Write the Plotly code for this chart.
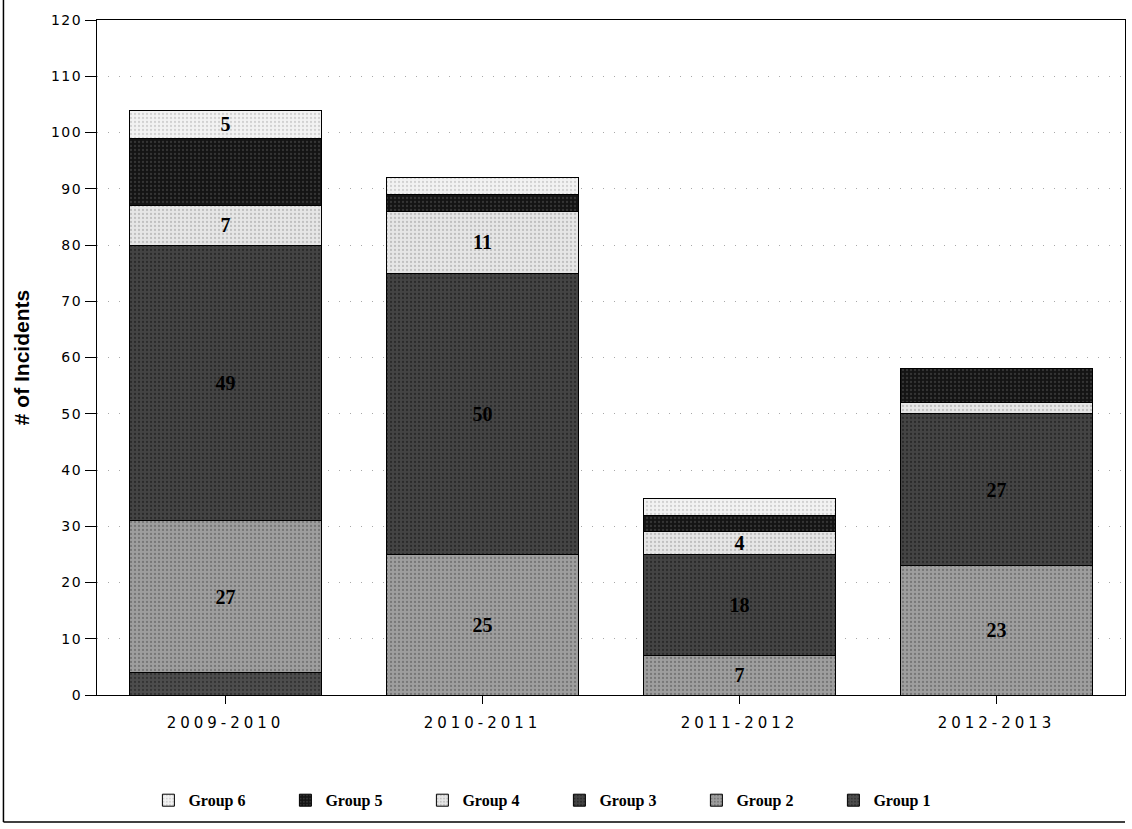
import plotly.graph_objects as go

# Incident counts per school year, stacked by group
years = ["2009-2010", "2010-2011", "2011-2012", "2012-2013"]
group_names = ["Group 1", "Group 2", "Group 3", "Group 4", "Group 5", "Group 6"]
group1 = [4, 0, 0, 0]
group2 = [27, 25, 7, 23]
group3 = [49, 50, 18, 27]
group4 = [7, 11, 4, 2]
group5 = [12, 3, 3, 6]
group6 = [5, 3, 3, 0]
y_ticks = list(range(0, 121, 10))

series = [group1, group2, group3, group4, group5, group6]

# fill, dot-texture colour, whether value labels are drawn
styles = {
    "Group 1": ("#4d4d4d", "#1a1a1a", False),
    "Group 2": ("#9e9e9e", "#505050", True),
    "Group 3": ("#444444", "#101010", True),
    "Group 4": ("#e6e6e6", "#9a9a9a", True),
    "Group 5": ("#141414", "#555555", False),
    "Group 6": ("#f2f2f2", "#b0b0b0", True),
}

fig = go.Figure()
for name, vals in zip(group_names, series):
    fill, dots, labelled = styles[name]
    texts = [str(v) if (labelled and v >= 4) else "" for v in vals]
    fig.add_trace(go.Bar(
        name=name,
        x=years,
        y=vals,
        text=texts,
        textposition="inside",
        insidetextanchor="middle",
        textangle=0,
        constraintext="none",
        textfont=dict(family="Liberation Serif", size=20, color="#000000", weight="bold"),
        marker=dict(
            color=fill,
            line=dict(color="#000000", width=1),
            pattern=dict(shape=".", fgcolor=dots, bgcolor=fill, size=4, solidity=0.25),
        ),
        hoverinfo="x+y+name",
    ))

tick_font = dict(family="DejaVu Sans", size=14, color="#000000")

fig.update_layout(
    barmode="stack",
    bargap=0.25,
    width=1132,
    height=829,
    margin=dict(l=97, r=7, t=20, b=134),
    paper_bgcolor="#ffffff",
    plot_bgcolor="#ffffff",
    legend=dict(
        orientation="h",
        traceorder="reversed",
        x=0.05, xanchor="left",
        y=-0.156, yanchor="middle",
        entrywidth=92, entrywidthmode="pixels",
        bgcolor="rgba(0,0,0,0)",
        font=dict(family="Liberation Serif", size=16, color="#000000", weight="bold"),
        itemclick=False,
    ),
    xaxis=dict(
        type="category",
        tickvals=years,
        ticktext=['<span style="letter-spacing:4px">%s</span>' % y for y in years],
        tickfont=dict(family="DejaVu Sans", size=15, color="#000000"),
        ticks="outside",
        ticklen=8,
        tickcolor="#000000",
        ticklabelstandoff=6,
        showline=True,
        linecolor="#000000",
        linewidth=1,
        mirror=True,
        showgrid=False,
    ),
    yaxis=dict(
        range=[0, 120],
        tickvals=y_ticks,
        ticktext=['<span style="letter-spacing:1.5px">%d</span>' % t for t in y_ticks],
        tickfont=tick_font,
        ticks="outside",
        ticklen=11,
        tickcolor="#000000",
        showline=True,
        linecolor="#000000",
        linewidth=1,
        mirror=True,
        showgrid=True,
        gridcolor="#a8a8a8",
        griddash="1px,10px",
        gridwidth=1,
        zeroline=False,
        title=dict(
            text="# of Incidents",
            font=dict(family="Liberation Sans", size=21, color="#000000", weight="bold"),
            standoff=15,
        ),
    ),
    shapes=[
        # outer frame of the chart (left and bottom edges)
        dict(type="line", xref="paper", yref="paper",
             x0=-0.091, x1=-0.091, y0=-0.188, y1=1.03,
             line=dict(color="#000000", width=1.5)),
        dict(type="line", xref="paper", yref="paper",
             x0=-0.091, x1=1.0, y0=-0.188, y1=-0.188,
             line=dict(color="#000000", width=1.5)),
    ],
)

fig.write_html("out.html")
